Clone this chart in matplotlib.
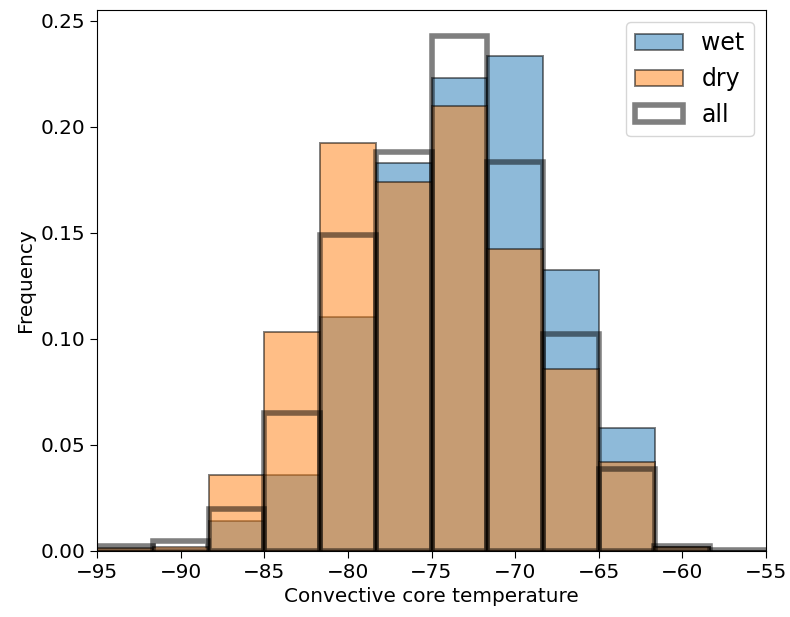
import numpy as np
import matplotlib
matplotlib.use("Agg")
import matplotlib.pyplot as plt

# bin edges of the histogram (12 bins from -95 to -55)
bin_edges = list(np.linspace(-95, -55, 13))

# fraction of samples per bin
wet = [0.0, 0.0, 0.0143, 0.0360, 0.1103, 0.1828, 0.2229, 0.2332, 0.1323, 0.0578, 0.0020, 0.0]
dry = [0.0012, 0.0020, 0.0360, 0.1033, 0.1923, 0.1739, 0.2098, 0.1422, 0.0860, 0.0420, 0.0020, 0.0]
all_ = [0.0024, 0.0047, 0.0196, 0.0651, 0.1492, 0.1880, 0.2429, 0.1836, 0.1025, 0.0385, 0.0025, 0.0004]

centers = [(a + b) / 2 for a, b in zip(bin_edges[:-1], bin_edges[1:])]

plt.rcParams['font.size'] = 14.4
plt.rcParams['xtick.major.size'] = 5
plt.rcParams['ytick.major.size'] = 5

fig = plt.figure(figsize=(7.9, 6.17), dpi=100)
ax = fig.add_axes([97 / 790, 1 - 551 / 617, (766 - 97) / 790, (551 - 10) / 617])

ax.hist(centers, bins=bin_edges, weights=wet, alpha=0.5, edgecolor='k', linewidth=1.4, label='wet')
ax.hist(centers, bins=bin_edges, weights=dry, alpha=0.5, edgecolor='k', linewidth=1.4, label='dry')
ax.hist(centers, bins=bin_edges, weights=all_, fill=False, alpha=0.5, edgecolor='k', linewidth=4, label='all')

ax.set_xlim(-95, -55)
ax.set_xlabel('Convective core temperature')
ax.set_ylabel('Frequency')
ax.legend(loc='upper right', fontsize=17)

fig.savefig('out.png', dpi=100)
